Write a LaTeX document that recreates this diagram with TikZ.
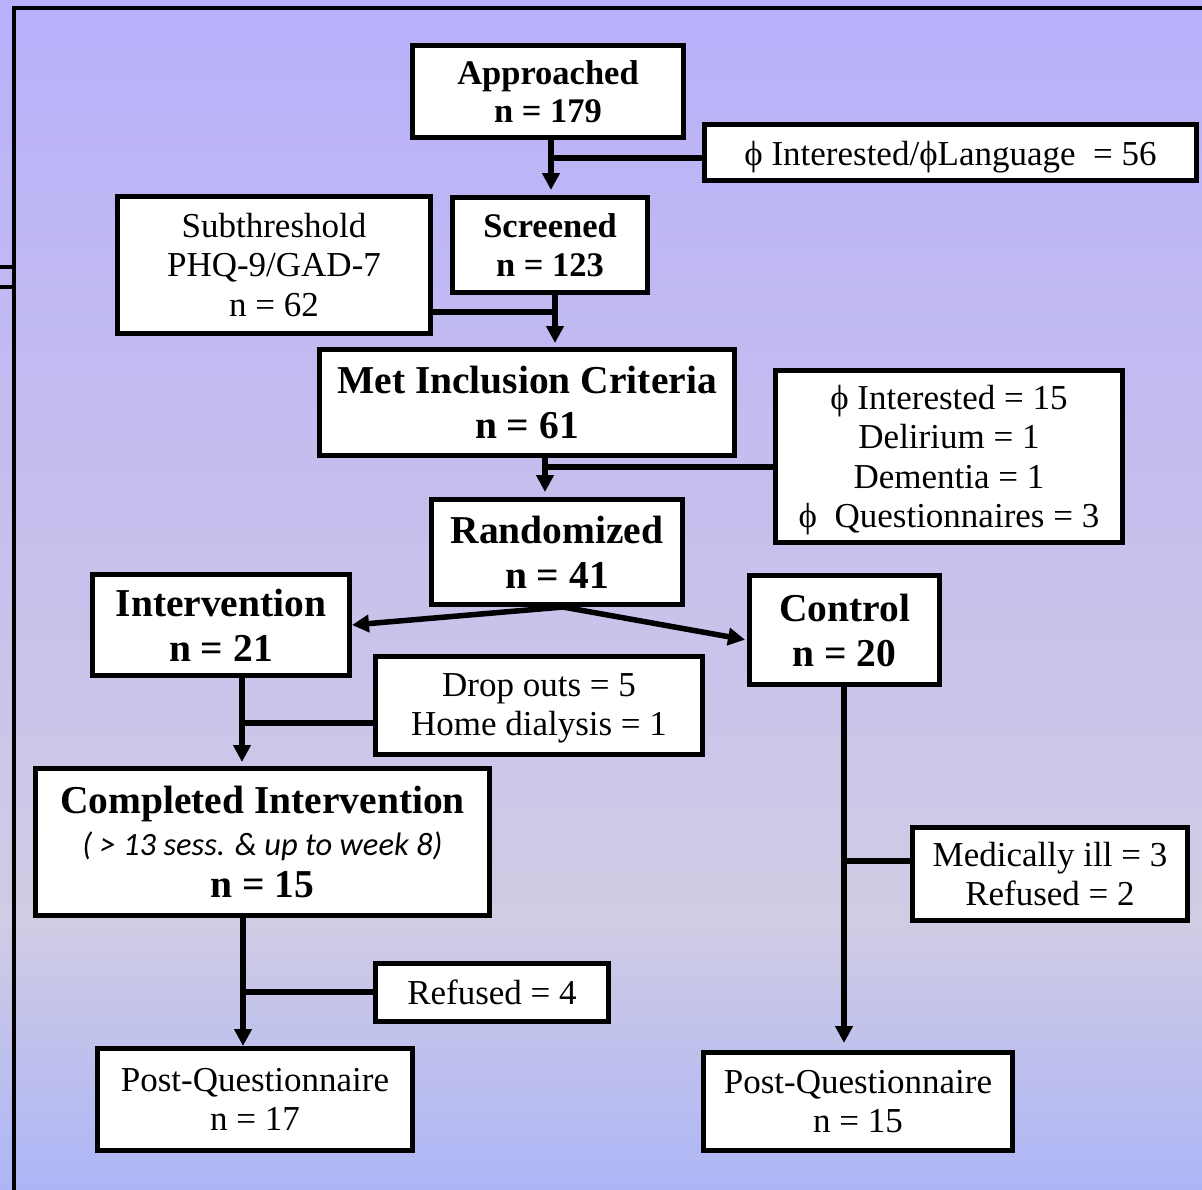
\documentclass[tikz,border=0pt]{standalone}
\usepackage{fontspec}
\setmainfont{Liberation Serif}
\newfontfamily\calibfam{Carlito}
\usetikzlibrary{arrows.meta,calc}
\newcommand\fReg{\fontsize{35}{39.5}\selectfont}
\newcommand\fBs{\bfseries\fontsize{34.5}{38.5}\selectfont}
\newcommand\fBb{\bfseries\fontsize{39.5}{45}\selectfont}
\newcommand\fBc{\bfseries\fontsize{39.5}{42}\selectfont}
\newcommand\fIt{\calibfam\itshape\mdseries\fontsize{32.5}{40}\selectfont}
\definecolor{bgtop}{RGB}{184,176,250}
\definecolor{bgmid}{RGB}{208,204,228}
\definecolor{bgbot}{RGB}{173,181,246}
\tikzset{
  box/.style={draw=black, line width=5pt, fill=white, inner sep=0pt, align=center},
  txt/.style={inner sep=0pt, align=center},
  conn/.style={draw=black, line width=5.5pt},
  arr/.style={conn, -{Triangle[length=17pt,width=17pt]}},
  frame/.style={draw=black, line width=4.5pt}
}
\begin{document}
\begin{tikzpicture}[x=1pt,y=-1pt]
\useasboundingbox (0,0) rectangle (1202,1189);
% background
\shade[top color=bgtop, bottom color=bgmid] (0,0) rectangle (1202,920);
\shade[top color=bgmid, bottom color=bgbot] (0,919.5) rectangle (1202,1189);
% frame
\draw[frame] (14,1195) -- (14,8) -- (1210,8);
\draw[draw=black, line width=4pt] (-2,267) -- (12,267);
\draw[draw=black, line width=4pt] (-2,287) -- (12,287);

% nodes
\node[box, font=\fBs, minimum width=271pt, minimum height=92pt] (A) at (548,91.5) {Approached\\n = 179};
\node[box, minimum width=492pt, minimum height=56pt] (X1) at (950.5,152.5) {};
\node[txt, font=\fReg] (X1t) at ([yshift=-5pt]X1.center) {ϕ Interested/ϕLanguage~ = 56};
\node[box, font=\fBs, minimum width=195pt, minimum height=95pt] (S) at (550,245) {Screened\\n = 123};
\node[box, font=\fReg, minimum width=313pt, minimum height=137pt] (T) at (274,265) {Subthreshold\\PHQ-9/GAD-7\\n = 62};
\node[box, font=\fBb, minimum width=415pt, minimum height=106pt] (M) at (527,402.5) {Met Inclusion Criteria\\n = 61};
\node[box, minimum width=347pt, minimum height=172pt] (X2) at (949,456.5) {};
\node[txt, font=\fReg] (X2t) at ([yshift=-3.5pt]X2.center) {ϕ Interested = 15\\Delirium = 1\\Dementia = 1\\ϕ~ Questionnaires = 3};
\node[box, font=\fBb, minimum width=251pt, minimum height=105pt] (R) at (557,552) {Randomized\\n = 41};
\node[box, font=\fBb, minimum width=257pt, minimum height=101pt] (I) at (221,625) {Intervention\\n = 21};
\node[box, font=\fBb, minimum width=190pt, minimum height=109pt] (C) at (844.5,630) {Control\\n = 20};
\node[box, minimum width=327pt, minimum height=98pt] (D) at (539,705.5) {};
\node[txt, font=\fReg] (Dt) at ([yshift=-3pt]D.center) {Drop outs = 5\\Home dialysis = 1};
\node[box, font=\fBc, minimum width=454pt, minimum height=147pt] (CI) at (262.5,842) {Completed Intervention\\{\fIt ( > 13 sess. \& up to week 8)}\\n = 15};
\node[box, font=\fReg, minimum width=233pt, minimum height=58pt] (RF) at (492,992.5) {Refused = 4};
\node[box, font=\fReg, minimum width=275pt, minimum height=93pt] (MI) at (1050,874) {Medically ill = 3\\Refused = 2};
\node[box, font=\fReg, minimum width=315pt, minimum height=102pt] (P1) at (255,1099.5) {Post-Questionnaire\\n = 17};
\node[box, font=\fReg, minimum width=309pt, minimum height=98pt] (P2) at (858,1101.5) {Post-Questionnaire\\n = 15};

% junction coordinates
\coordinate (ax) at (551,158);
\coordinate (sx) at (555,312);
\coordinate (mx) at (545,467);
\coordinate (rx) at (563,607);
\coordinate (ix) at (242,723);
\coordinate (cx) at (243,992);
\coordinate (kx) at (844,861);

% connectors
\draw[arr, shorten >=5pt] (A.south -| ax) -- (S.north -| ax);
\draw[conn] (X1.west |- ax) -- (ax);
\draw[arr, shorten >=4pt] (S.south -| sx) -- (M.north -| sx);
\draw[conn] (T.east |- sx) -- (sx);
\draw[arr, shorten >=5pt] (M.south -| mx) -- (R.north -| mx);
\draw[conn] (X2.west |- mx) -- (mx);
\draw[arr] (R.south -| rx) -- (I.east);
\draw[arr, shorten >=2pt] (R.south -| rx) -- ([yshift=-10pt]C.west);
\draw[arr, shorten >=4pt] (I.south -| ix) -- (CI.north -| ix);
\draw[conn] (D.west |- ix) -- (ix);
\draw[arr] (CI.south -| cx) -- (P1.north -| cx);
\draw[conn] (RF.west |- cx) -- (cx);
\draw[arr, shorten >=7pt] (C.south -| kx) -- (P2.north -| kx);
\draw[conn] (MI.west |- kx) -- (kx);
\end{tikzpicture}
\end{document}
